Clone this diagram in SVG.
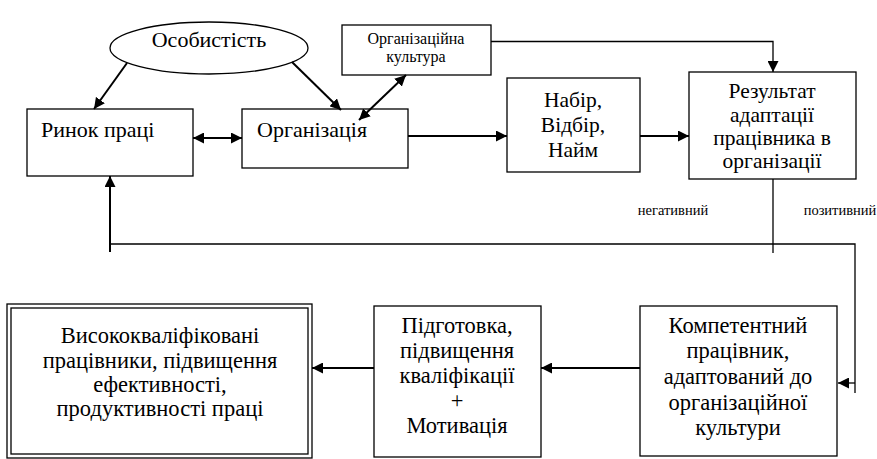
<svg xmlns="http://www.w3.org/2000/svg" width="877" height="459" viewBox="0 0 877 459">
<defs>
<marker id="ah" viewBox="0 0 10 10" refX="10" refY="5" markerWidth="11" markerHeight="11" markerUnits="userSpaceOnUse" orient="auto-start-reverse">
<path d="M0,0 L10,5 L0,10 z" fill="#000"/>
</marker>
<style>
.box{fill:#fff;stroke:#000;stroke-width:1.3}
.t{font-family:"Liberation Serif","Times New Roman",serif;font-size:22px;fill:#000}
.m{font-size:21.5px}
.b{font-size:22.5px}
.c{text-anchor:middle}
.s{font-size:16px}
.xs{font-size:14.5px}
.ln{fill:none;stroke:#000;stroke-width:2}
.thin{fill:none;stroke:#000;stroke-width:1.3}
</style>
</defs>
<rect width="877" height="459" fill="#fff"/>

<g id="osobystist">
<ellipse cx="209" cy="48" rx="99" ry="26" class="box"/>
<text class="t c" x="209" y="47">Особистість</text>
</g>

<g id="rynok">
<rect class="box" x="27" y="109" width="166" height="67"/>
<text class="t" x="41" y="137">Ринок праці</text>
</g>

<g id="organizatsiia">
<rect class="box" x="242" y="109" width="166" height="59"/>
<text class="t" x="257" y="137">Організація</text>
</g>

<g id="kultura">
<rect class="box" x="342" y="25" width="149" height="50"/>
<text class="t s c" x="416" y="44">Організаційна</text>
<text class="t s c" x="416" y="62">культура</text>
</g>

<g id="nabir">
<rect class="box" x="507" y="78" width="133" height="94"/>
<text class="t m c" x="573" y="107">Набір,</text>
<text class="t m c" x="573" y="132">Відбір,</text>
<text class="t m c" x="573" y="157">Найм</text>
</g>

<g id="rezultat">
<rect class="box" x="689" y="72" width="167" height="107"/>
<text class="t m c" x="772" y="98">Результат</text>
<text class="t m c" x="772" y="122">адаптації</text>
<text class="t m c" x="772" y="145">працівника в</text>
<text class="t m c" x="772" y="168">організації</text>
</g>

<g id="vysoko">
<rect class="box" x="7" y="304" width="305" height="154"/>
<rect class="box" x="11" y="308" width="297" height="146"/>
<text class="t b c" x="160" y="343">Висококваліфіковані</text>
<text class="t b c" x="160" y="368">працівники, підвищення</text>
<text class="t b c" x="160" y="392">ефективності,</text>
<text class="t b c" x="160" y="416">продуктивності праці</text>
</g>

<g id="pidhotovka">
<rect class="box" x="374" y="306" width="167" height="151"/>
<text class="t b c" x="457" y="333">Підготовка,</text>
<text class="t b c" x="457" y="358">підвищення</text>
<text class="t b c" x="457" y="383">кваліфікації</text>
<text class="t b c" x="457" y="408">+</text>
<text class="t b c" x="457" y="433">Мотивація</text>
</g>

<g id="kompetentnyi">
<rect class="box" x="640" y="306" width="197" height="150"/>
<text class="t b c" x="738" y="333">Компетентний</text>
<text class="t b c" x="738" y="358">працівник,</text>
<text class="t b c" x="738" y="384">адаптований до</text>
<text class="t b c" x="738" y="410">організаційної</text>
<text class="t b c" x="738" y="435">культури</text>
</g>

<g id="connectors">
<line class="ln" x1="127" y1="63" x2="94" y2="109" marker-end="url(#ah)"/>
<line class="ln" x1="292" y1="62" x2="341" y2="110" marker-end="url(#ah)"/>
<line class="ln" x1="406" y1="75" x2="359" y2="120" marker-start="url(#ah)" marker-end="url(#ah)"/>
<line class="ln" x1="193" y1="138" x2="242" y2="138" marker-start="url(#ah)" marker-end="url(#ah)"/>
<line class="ln" x1="408" y1="136" x2="507" y2="136" marker-end="url(#ah)"/>
<line class="ln" x1="640" y1="136" x2="689" y2="136" marker-end="url(#ah)"/>
<polyline class="thin" points="491,41.5 773,41.5 773,72" marker-end="url(#ah)"/>
<line class="thin" x1="773" y1="179" x2="773" y2="253"/>
<polyline class="thin" points="110,244 855,244 855,393"/>
<line class="thin" x1="855" y1="383" x2="838" y2="383" marker-end="url(#ah)"/>
<line class="ln" x1="110" y1="252" x2="110" y2="176" marker-end="url(#ah)"/>
<line class="ln" x1="640" y1="368" x2="541" y2="368" marker-end="url(#ah)"/>
<line class="ln" x1="374" y1="368" x2="312" y2="368" marker-end="url(#ah)"/>
<text class="t xs c" x="673" y="215">негативний</text>
<text class="t xs c" x="840" y="215">позитивний</text>
</g>
</svg>
